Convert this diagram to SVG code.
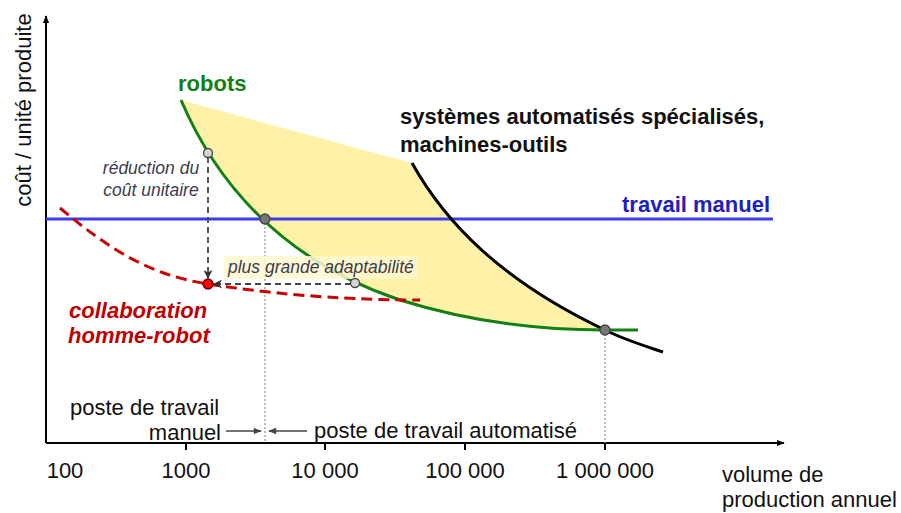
<svg xmlns="http://www.w3.org/2000/svg" width="901" height="513" viewBox="0 0 901 513">
  <style>
    text { font-family: "Liberation Sans", Arial, sans-serif; }
    .ax { font-size: 22px; fill: #111; }
    .note { font-size: 17.5px; font-style: italic; fill: #3c3c50; }
    .title { font-size: 22px; font-weight: bold; }
    .axis { stroke: #000; stroke-width: 2; fill: none; }
    .tick { stroke: #000; stroke-width: 2; }
    .guide { stroke: #999; stroke-width: 1.3; stroke-dasharray: 2 2; fill: none; }
    .move { stroke: #444; stroke-width: 1.8; stroke-dasharray: 6 4; fill: none; }
    .pt { stroke: #444; stroke-width: 1.3; }
  </style>
  <defs>
    <marker id="axarrow" viewBox="0 0 10 10" refX="9" refY="5" markerWidth="8" markerHeight="8" markerUnits="userSpaceOnUse" orient="auto">
      <path d="M0,1 L10,5 L0,9 Z" fill="#000"/>
    </marker>
    <marker id="grayarrow" viewBox="0 0 10 10" refX="9" refY="5" markerWidth="9" markerHeight="9" markerUnits="userSpaceOnUse" orient="auto">
      <path d="M0,0 L10,5 L0,10 L3,5 Z" fill="#333"/>
    </marker>
    <marker id="smallarrow" viewBox="0 0 10 10" refX="9" refY="5" markerWidth="9" markerHeight="8" markerUnits="userSpaceOnUse" orient="auto">
      <path d="M0,1 L10,5 L0,9 Z" fill="#444"/>
    </marker>
  </defs>

  <!-- cost-saving zone between robots and specialised automation -->
  <path id="zone" d="M181,100 L412,163 C445,222 500,280 605,330 C540,330 470,322 400,300 C280,260 215,180 181,100 Z" fill="#fff2a8"/>

  <!-- axes -->
  <g id="axes">
    <line class="axis" x1="46" y1="443" x2="46" y2="16" marker-end="url(#axarrow)"/>
    <line class="axis" x1="46" y1="443" x2="784" y2="443" marker-end="url(#axarrow)"/>
    <line class="tick" x1="186" y1="443" x2="186" y2="450"/>
    <line class="tick" x1="325" y1="443" x2="325" y2="450"/>
    <line class="tick" x1="465" y1="443" x2="465" y2="450"/>
    <line class="tick" x1="605" y1="443" x2="605" y2="450"/>
    <text class="ax" x="65" y="478" text-anchor="middle">100</text>
    <text class="ax" x="186" y="478" text-anchor="middle">1000</text>
    <text class="ax" x="325" y="478" text-anchor="middle">10 000</text>
    <text class="ax" x="465" y="478" text-anchor="middle">100 000</text>
    <text class="ax" x="605" y="478" text-anchor="middle">1 000 000</text>
    <text class="ax" x="722" y="482">volume de</text>
    <text class="ax" x="722" y="507">production annuel</text>
    <text class="ax" transform="translate(31,110) rotate(-90)" text-anchor="middle">coût / unité produite</text>
  </g>

  <!-- break-even guides -->
  <g id="guides">
    <line class="guide" x1="265" y1="219" x2="265" y2="443"/>
    <line class="guide" x1="605" y1="330" x2="605" y2="443"/>
  </g>

  <!-- cost curves -->
  <g id="connectors">
    <line id="manual" x1="46" y1="219" x2="773" y2="219" stroke="#3b3bf0" stroke-width="3"/>
    <path id="special" d="M412,163 C445,222 500,280 605,330 C625,340 645,346 663,352" fill="none" stroke="#000" stroke-width="3"/>
    <path id="robots" d="M181,100 C215,180 280,260 400,300 C470,322 540,330 605,330 L638,330" fill="none" stroke="#128012" stroke-width="3"/>
    <path id="cobot" d="M60,208 C110,250 150,275 208,284 C260,292 330,300 420,300" fill="none" stroke="#cc0000" stroke-width="3" stroke-dasharray="11 6"/>
    <line class="move" x1="208" y1="157" x2="208" y2="278" marker-end="url(#grayarrow)"/>
    <line class="move" x1="351" y1="284" x2="214" y2="284" marker-end="url(#grayarrow)"/>
    <line stroke="#444" stroke-width="1.5" x1="226" y1="431" x2="261" y2="431" marker-end="url(#smallarrow)"/>
    <line stroke="#444" stroke-width="1.5" x1="307" y1="431" x2="269" y2="431" marker-end="url(#smallarrow)"/>
  </g>

  <!-- labels -->
  <g id="label-robots"><text class="title" x="178" y="91" fill="#128012">robots</text></g>
  <g id="label-special">
    <text class="title" x="400" y="124" fill="#111">systèmes automatisés spécialisés,</text>
    <text class="title" x="400" y="152" fill="#111">machines-outils</text>
  </g>
  <g id="label-manual"><text class="title" x="770" y="212" text-anchor="end" fill="#2020c0">travail manuel</text></g>
  <g id="label-cobot">
    <text class="title" x="69" y="318" font-size="23.5" font-style="italic" fill="#c00000">collaboration</text>
    <text class="title" x="68" y="343" font-size="23.5" font-style="italic" fill="#c00000">homme-robot</text>
  </g>
  <g id="label-reduction">
    <text class="note" x="151" y="174" text-anchor="middle">réduction du</text>
    <text class="note" x="151" y="196" text-anchor="middle">coût unitaire</text>
  </g>
  <g id="label-adapt">
    <rect x="224" y="256" width="194" height="23" fill="#fff8d0" opacity="0.85"/>
    <text class="note" x="228" y="273">plus grande adaptabilité</text>
  </g>
  <g id="label-posts">
    <text class="ax" x="70" y="415">poste de travail</text>
    <text class="ax" x="221" y="440" text-anchor="end">manuel</text>
    <text class="ax" x="314" y="438">poste de travail automatisé</text>
  </g>

  <!-- marked points -->
  <g id="points">
    <circle class="pt" cx="208" cy="153" r="4.5" fill="#d4d4d4"/>
    <circle class="pt" cx="265" cy="219" r="5" fill="#777"/>
    <circle class="pt" cx="355" cy="283" r="4.5" fill="#d4d4d4"/>
    <circle class="pt" cx="605" cy="330" r="5" fill="#777"/>
    <circle cx="208" cy="284" r="5" fill="#ff0000" stroke="#600" stroke-width="1.3"/>
  </g>
</svg>
